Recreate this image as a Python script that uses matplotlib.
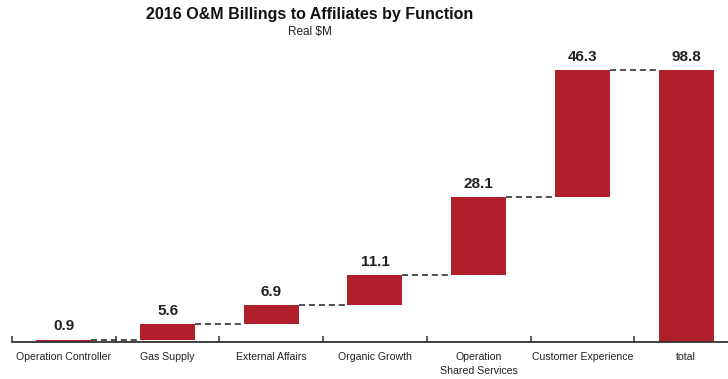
import numpy as np
import matplotlib
matplotlib.use('Agg')
import matplotlib.pyplot as plt

categories = ['Operation Controller', 'Gas Supply', 'External Affairs', 'Organic Growth',
              'Operation\nShared Services', 'Customer Experience', 'total']
steps = [0.9, 5.6, 6.9, 11.1, 28.1, 46.3]
total = 98.8

plt.rcParams.update({
    'font.family': ['Liberation Sans', 'DejaVu Sans'],
})

BAR_RED = '#b0202a'

fig = plt.figure(figsize=(7.28, 3.79), dpi=100)
# axes run slightly past the right edge, so the last slot is cut off
ax = fig.add_axes([12 / 728, 37 / 379, 726 / 728, 305 / 379])

n = len(categories)
x = np.arange(n)
width = 0.53

tops = np.cumsum(steps)
bottoms = tops - np.array(steps)
heights = list(steps) + [total]
bases = list(bottoms) + [0]

ax.bar(x, heights, width, bottom=bases, color=BAR_RED, edgecolor='none', zorder=2)

# dashed connectors between consecutive bars
levels = list(tops[:-1]) + [total]
for i, lvl in enumerate(levels):
    ax.plot([x[i] + width / 2, x[i + 1] - width / 2], [lvl, lvl],
            color='#222222', linestyle=(0, (4, 2.5)), linewidth=1.1, zorder=1)

# value labels
tops_all = list(tops) + [total]
for xi, v, t in zip(x, heights, tops_all):
    ax.text(xi, t + 2.2, f'{v:.1f}', ha='center', va='bottom',
            fontsize=11, fontweight='bold', color='#222222')

ax.set_xlim(-0.5, -0.5 + 726 / 103.7)
ax.set_ylim(0, 305 / 2.75)

for side in ['top', 'right', 'left']:
    ax.spines[side].set_visible(False)
ax.spines['bottom'].set_linewidth(1.3)
ax.spines['bottom'].set_color('#333333')

ax.set_yticks([])
ax.set_xticks(x)
ax.set_xticklabels(categories, fontsize=7.6, color='#222222', linespacing=1.5)
ax.tick_params(axis='x', which='major', length=0, pad=7)
ax.set_xticks(np.arange(n) - 0.5, minor=True)
ax.tick_params(axis='x', which='minor', direction='in', length=4, width=1.1, color='#333333')

fig.text(310 / 728, 1 - 15 / 379, '2016 O&M Billings to Affiliates by Function',
         ha='center', va='center', fontsize=11.5, fontweight='bold', color='#111111')
fig.text(310 / 728, 1 - 32 / 379, 'Real $M', ha='center', va='center',
         fontsize=8.5, color='#222222')

fig.savefig('out.png', dpi=100)
